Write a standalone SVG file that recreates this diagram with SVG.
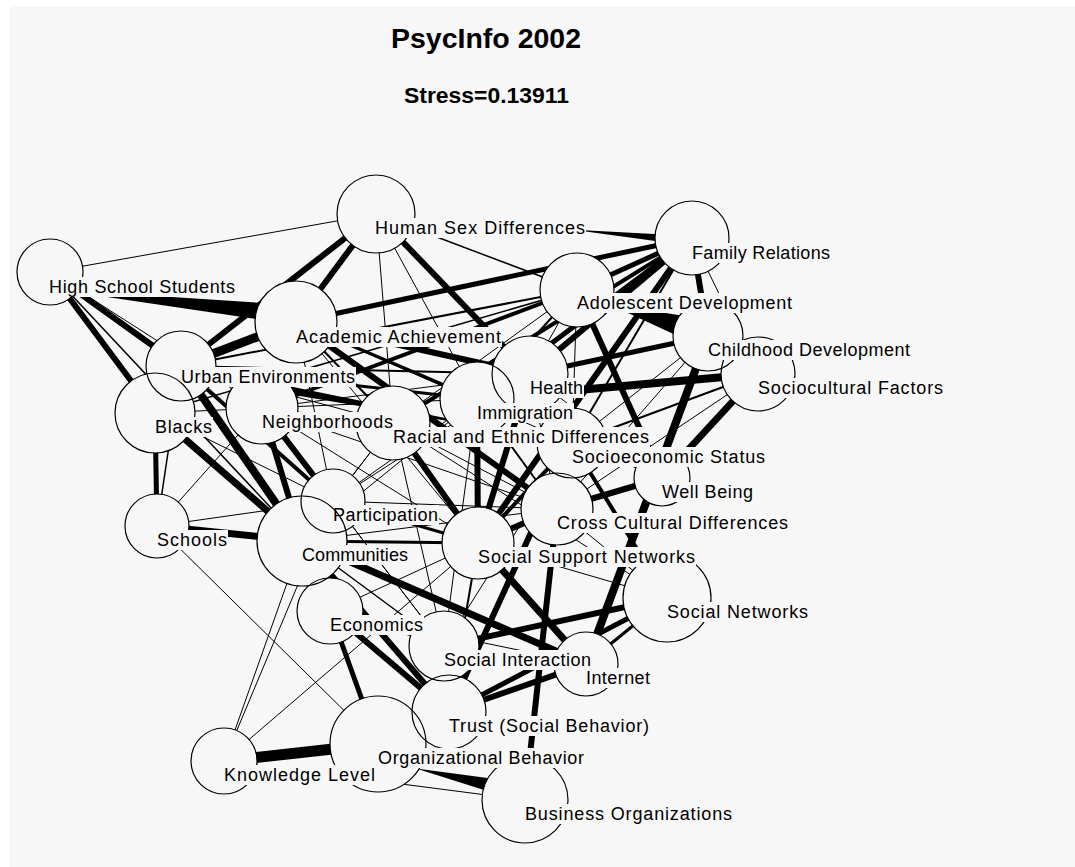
<svg xmlns="http://www.w3.org/2000/svg" width="1075" height="867" viewBox="0 0 1075 867">
<style>
.bg{fill:#f7f7f7}
.e line{stroke:#000;stroke-linecap:butt}
.e polygon{fill:#000}
.w1{stroke-width:1}.w15{stroke-width:1.5}.w2{stroke-width:2}.w3{stroke-width:3}.w4{stroke-width:4}.w5{stroke-width:5}.w6{stroke-width:6}.w7{stroke-width:7}.w8{stroke-width:8}.w9{stroke-width:9}.w11{stroke-width:11}
.node circle{fill:none;stroke:#000;stroke-width:1.2}
.node rect{fill:#f7f7f7}
.node text{font-family:"Liberation Sans",Arial,sans-serif;font-size:18px;fill:#000}
.title{font-family:"Liberation Sans",Arial,sans-serif;font-weight:bold;fill:#000}
</style>
<defs>
<mask id="holes" maskUnits="userSpaceOnUse" x="0" y="0" width="1075" height="867">
<rect x="0" y="0" width="1075" height="867" fill="#fff"/>
<g fill="#000">
<circle cx="376" cy="214" r="39"/><circle cx="50" cy="272" r="33"/><circle cx="692" cy="238" r="37"/><circle cx="577" cy="290" r="37"/>
<circle cx="296" cy="322" r="41"/><circle cx="181" cy="366" r="35"/><circle cx="155" cy="413" r="40"/><circle cx="262" cy="408" r="36"/>
<circle cx="708" cy="336" r="35"/><circle cx="758" cy="374" r="37"/><circle cx="530" cy="374" r="38"/><circle cx="477" cy="399" r="37"/>
<circle cx="393" cy="423" r="37"/><circle cx="572" cy="443" r="35"/><circle cx="662" cy="478" r="28"/><circle cx="557" cy="509" r="36"/>
<circle cx="478" cy="543" r="36"/><circle cx="667" cy="598" r="44"/><circle cx="333" cy="501" r="32"/><circle cx="302" cy="541" r="45"/>
<circle cx="157" cy="526" r="32"/><circle cx="330" cy="611" r="33"/><circle cx="444" cy="646" r="35"/><circle cx="586" cy="664" r="32"/>
<circle cx="449" cy="712" r="37"/><circle cx="378" cy="744" r="48"/><circle cx="224" cy="761" r="33"/><circle cx="525" cy="800" r="43"/>
</g>
</mask>
</defs>
<rect x="0" y="0" width="1075" height="867" fill="#fff"/>
<rect class="bg" x="10" y="6" width="1065" height="861"/>
<text class="title" x="391" y="48" font-size="27" textLength="190" lengthAdjust="spacingAndGlyphs">PsycInfo 2002</text>
<text class="title" x="404" y="103" font-size="22" textLength="165" lengthAdjust="spacingAndGlyphs">Stress=0.13911</text>
<g id="connectors" class="e" mask="url(#holes)">
<line class="w1" x1="50" y1="272" x2="376" y2="214"/>
<line class="w1" x1="50" y1="272" x2="262" y2="408"/>
<line class="w1" x1="376" y1="214" x2="393" y2="423"/>
<line class="w1" x1="376" y1="214" x2="477" y2="399"/>
<line class="w1" x1="157" y1="526" x2="262" y2="408"/>
<line class="w1" x1="157" y1="526" x2="333" y2="501"/>
<line class="w1" x1="157" y1="526" x2="378" y2="744"/>
<line class="w1" x1="224" y1="761" x2="478" y2="543"/>
<line class="w1" x1="224" y1="761" x2="525" y2="800"/>
<line class="w1" x1="330" y1="611" x2="444" y2="646"/>
<line class="w1" x1="155" y1="413" x2="333" y2="501"/>
<line class="w1" x1="262" y1="408" x2="478" y2="543"/>
<line class="w1" x1="262" y1="408" x2="444" y2="646"/>
<line class="w1" x1="262" y1="408" x2="557" y2="509"/>
<line class="w1" x1="333" y1="501" x2="444" y2="646"/>
<line class="w1" x1="333" y1="501" x2="477" y2="399"/>
<line class="w1" x1="333" y1="501" x2="393" y2="423"/>
<line class="w1" x1="333" y1="501" x2="530" y2="374"/>
<line class="w1" x1="333" y1="501" x2="557" y2="509"/>
<line class="w1" x1="393" y1="423" x2="444" y2="646"/>
<line class="w1" x1="393" y1="423" x2="302" y2="541"/>
<line class="w1" x1="393" y1="423" x2="557" y2="509"/>
<line class="w1" x1="477" y1="399" x2="302" y2="541"/>
<line class="w1" x1="477" y1="399" x2="444" y2="646"/>
<line class="w1" x1="530" y1="374" x2="662" y2="478"/>
<line class="w1" x1="478" y1="543" x2="667" y2="598"/>
<line class="w1" x1="557" y1="509" x2="667" y2="598"/>
<line class="w1" x1="444" y1="646" x2="586" y2="664"/>
<line class="w1" x1="449" y1="712" x2="378" y2="744"/>
<line class="w1" x1="692" y1="238" x2="758" y2="374"/>
<line class="w1" x1="577" y1="290" x2="530" y2="374"/>
<line class="w1" x1="577" y1="290" x2="572" y2="443"/>
<line class="w1" x1="577" y1="290" x2="393" y2="423"/>
<line class="w1" x1="758" y1="374" x2="557" y2="509"/>
<line class="w1" x1="662" y1="478" x2="572" y2="443"/>
<line class="w1" x1="302" y1="541" x2="557" y2="509"/>
<line class="w1" x1="181" y1="366" x2="393" y2="423"/>
<line class="w1" x1="708" y1="336" x2="557" y2="509"/>
<line class="w1" x1="530" y1="374" x2="557" y2="509"/>
<line class="w1" x1="572" y1="443" x2="444" y2="646"/>
<line class="w1" x1="393" y1="423" x2="667" y2="598"/>
<line class="w1" x1="262" y1="408" x2="530" y2="374"/>
<line class="w1" x1="302" y1="541" x2="224" y2="761"/>
<line class="w1" x1="333" y1="501" x2="224" y2="761"/>
<line class="w1" x1="262" y1="408" x2="393" y2="423"/>
<line class="w1" x1="155" y1="413" x2="262" y2="408"/>
<line class="w1" x1="330" y1="611" x2="478" y2="543"/>
<line class="w1" x1="330" y1="611" x2="586" y2="664"/>
<line class="w1" x1="708" y1="336" x2="572" y2="443"/>
<line class="w1" x1="296" y1="322" x2="572" y2="443"/>
<line class="w1" x1="296" y1="322" x2="478" y2="543"/>
<line class="w1" x1="296" y1="322" x2="333" y2="501"/>
<line class="w1" x1="262" y1="408" x2="477" y2="399"/>
<line class="w15" x1="50" y1="272" x2="302" y2="541"/>
<line class="w15" x1="376" y1="214" x2="577" y2="290"/>
<line class="w15" x1="302" y1="541" x2="444" y2="646"/>
<line class="w15" x1="181" y1="366" x2="157" y2="526"/>
<line class="w15" x1="155" y1="413" x2="577" y2="290"/>
<line class="w2" x1="181" y1="366" x2="530" y2="374"/>
<line class="w2" x1="477" y1="399" x2="557" y2="509"/>
<line class="w2" x1="577" y1="290" x2="477" y2="399"/>
<line class="w2" x1="478" y1="543" x2="449" y2="712"/>
<line class="w2" x1="296" y1="322" x2="393" y2="423"/>
<line class="w2" x1="692" y1="238" x2="572" y2="443"/>
<line class="w2" x1="181" y1="366" x2="577" y2="290"/>
<line class="w2" x1="572" y1="443" x2="758" y2="374"/>
<line class="w3" x1="296" y1="322" x2="477" y2="399"/>
<line class="w3" x1="302" y1="541" x2="478" y2="543"/>
<line class="w3" x1="667" y1="598" x2="586" y2="664"/>
<line class="w3" x1="181" y1="366" x2="155" y2="413"/>
<line class="w3" x1="181" y1="366" x2="477" y2="399"/>
<line class="w3" x1="333" y1="501" x2="478" y2="543"/>
<line class="w4" x1="181" y1="366" x2="333" y2="501"/>
<line class="w4" x1="572" y1="443" x2="478" y2="543"/>
<line class="w4" x1="692" y1="238" x2="393" y2="423"/>
<line class="w4" x1="262" y1="408" x2="577" y2="290"/>
<line class="w4" x1="572" y1="443" x2="667" y2="598"/>
<line class="w5" x1="155" y1="413" x2="157" y2="526"/>
<line class="w5" x1="530" y1="374" x2="708" y2="336"/>
<line class="w5" x1="330" y1="611" x2="378" y2="744"/>
<line class="w5" x1="692" y1="238" x2="577" y2="290"/>
<line class="w5" x1="692" y1="238" x2="477" y2="399"/>
<line class="w5" x1="667" y1="598" x2="449" y2="712"/>
<line class="w5" x1="692" y1="238" x2="296" y2="322"/>
<line class="w6" x1="50" y1="272" x2="181" y2="366"/>
<line class="w6" x1="50" y1="272" x2="155" y2="413"/>
<line class="w6" x1="376" y1="214" x2="296" y2="322"/>
<line class="w6" x1="376" y1="214" x2="181" y2="366"/>
<line class="w6" x1="376" y1="214" x2="530" y2="374"/>
<line class="w6" x1="296" y1="322" x2="530" y2="374"/>
<line class="w6" x1="296" y1="322" x2="557" y2="509"/>
<line class="w6" x1="262" y1="408" x2="302" y2="541"/>
<line class="w6" x1="262" y1="408" x2="333" y2="501"/>
<line class="w6" x1="330" y1="611" x2="449" y2="712"/>
<line class="w6" x1="302" y1="541" x2="449" y2="712"/>
<line class="w6" x1="477" y1="399" x2="478" y2="543"/>
<line class="w6" x1="530" y1="374" x2="478" y2="543"/>
<line class="w6" x1="393" y1="423" x2="478" y2="543"/>
<line class="w6" x1="572" y1="443" x2="449" y2="712"/>
<line class="w6" x1="478" y1="543" x2="557" y2="509"/>
<line class="w6" x1="557" y1="509" x2="525" y2="800"/>
<line class="w6" x1="667" y1="598" x2="444" y2="646"/>
<line class="w6" x1="449" y1="712" x2="586" y2="664"/>
<line class="w6" x1="692" y1="238" x2="530" y2="374"/>
<line class="w6" x1="692" y1="238" x2="708" y2="336"/>
<line class="w6" x1="577" y1="290" x2="662" y2="478"/>
<line class="w6" x1="692" y1="238" x2="478" y2="543"/>
<line class="w6" x1="557" y1="509" x2="662" y2="478"/>
<line class="w7" x1="155" y1="413" x2="302" y2="541"/>
<line class="w7" x1="302" y1="541" x2="586" y2="664"/>
<line class="w7" x1="478" y1="543" x2="586" y2="664"/>
<line class="w7" x1="157" y1="526" x2="302" y2="541"/>
<line class="w7" x1="758" y1="374" x2="662" y2="478"/>
<line class="w8" x1="181" y1="366" x2="302" y2="541"/>
<line class="w8" x1="477" y1="399" x2="758" y2="374"/>
<line class="w8" x1="708" y1="336" x2="586" y2="664"/>
<line class="w9" x1="181" y1="366" x2="296" y2="322"/>
<line class="w11" x1="224" y1="761" x2="378" y2="744"/>
<polygon points="80,291 80,293 262,320 262,303"/>
<polygon points="560,228 560,229 692,236 692,246"/>
<polygon points="181,364 181,376 572,442 572,444"/>
<polygon points="600,300 600,302 708,320 708,350"/>
<polygon points="405,765 405,767 525,783 525,803"/>
</g>
<g id="nodes">
<g id="n-sociocultural" class="node"><circle cx="758" cy="374" r="37"/><rect x="758" y="378" width="186" height="20"/><text x="758" y="394" textLength="185">Sociocultural Factors</text></g>
<g id="n-childhood" class="node"><circle cx="708" cy="336" r="35"/><rect x="708" y="340" width="203" height="20"/><text x="708" y="356" textLength="202">Childhood Development</text></g>
<g id="n-family" class="node"><circle cx="692" cy="238" r="37"/><rect x="692" y="243" width="139" height="20"/><text x="692" y="259" textLength="138">Family Relations</text></g>
<g id="n-socnet" class="node"><circle cx="667" cy="598" r="44"/><rect x="667" y="602" width="142" height="20"/><text x="667" y="618" textLength="141">Social Networks</text></g>
<g id="n-wellbeing" class="node"><circle cx="662" cy="478" r="28"/><rect x="662" y="482" width="92" height="20"/><text x="662" y="498" textLength="91">Well Being</text></g>
<g id="n-internet" class="node"><circle cx="586" cy="664" r="32"/><rect x="586" y="668" width="65" height="20"/><text x="586" y="684" textLength="64">Internet</text></g>
<g id="n-adolescent" class="node"><circle cx="577" cy="290" r="37"/><rect x="577" y="293" width="216" height="20"/><text x="577" y="309" textLength="215">Adolescent Development</text></g>
<g id="n-ses" class="node"><circle cx="572" cy="443" r="35"/><rect x="572" y="447" width="194" height="20"/><text x="572" y="463" textLength="193">Socioeconomic Status</text></g>
<g id="n-crosscult" class="node"><circle cx="557" cy="509" r="36"/><rect x="557" y="513" width="232" height="20"/><text x="557" y="529" textLength="231">Cross Cultural Differences</text></g>
<g id="n-health" class="node"><circle cx="530" cy="374" r="38"/><rect x="530" y="378" width="54" height="20"/><text x="530" y="394" textLength="53">Health</text></g>
<g id="n-business" class="node"><circle cx="525" cy="800" r="43"/><rect x="525" y="804" width="208" height="20"/><text x="525" y="820" textLength="207">Business Organizations</text></g>
<g id="n-socsupport" class="node"><circle cx="478" cy="543" r="36"/><rect x="478" y="547" width="218" height="20"/><text x="478" y="563" textLength="217">Social Support Networks</text></g>
<g id="n-immigration" class="node"><circle cx="477" cy="399" r="37"/><rect x="477" y="403" width="97" height="20"/><text x="477" y="419" textLength="96">Immigration</text></g>
<g id="n-trust" class="node"><circle cx="449" cy="712" r="37"/><rect x="449" y="716" width="201" height="20"/><text x="449" y="732" textLength="200">Trust (Social Behavior)</text></g>
<g id="n-socinteraction" class="node"><circle cx="444" cy="646" r="35"/><rect x="444" y="650" width="148" height="20"/><text x="444" y="666" textLength="147">Social Interaction</text></g>
<g id="n-racial" class="node"><circle cx="393" cy="423" r="37"/><rect x="393" y="427" width="257" height="20"/><text x="393" y="443" textLength="256">Racial and Ethnic Differences</text></g>
<g id="n-orgbehavior" class="node"><circle cx="378" cy="744" r="48"/><rect x="378" y="748" width="207" height="20"/><text x="378" y="764" textLength="206">Organizational Behavior</text></g>
<g id="n-sexdiff" class="node"><circle cx="376" cy="214" r="39"/><rect x="375" y="218" width="211" height="20"/><text x="375" y="234" textLength="210">Human Sex Differences</text></g>
<g id="n-participation" class="node"><circle cx="333" cy="501" r="32"/><rect x="333" y="505" width="106" height="20"/><text x="333" y="521" textLength="105">Participation</text></g>
<g id="n-economics" class="node"><circle cx="330" cy="611" r="33"/><rect x="330" y="615" width="94" height="20"/><text x="330" y="631" textLength="93">Economics</text></g>
<g id="n-communities" class="node"><circle cx="302" cy="541" r="45"/><rect x="302" y="545" width="107" height="20"/><text x="302" y="561" textLength="106">Communities</text></g>
<g id="n-academic" class="node"><circle cx="296" cy="322" r="41"/><rect x="296" y="327" width="206" height="20"/><text x="296" y="343" textLength="205">Academic Achievement</text></g>
<g id="n-neighborhoods" class="node"><circle cx="262" cy="408" r="36"/><rect x="262" y="412" width="132" height="20"/><text x="262" y="428" textLength="131">Neighborhoods</text></g>
<g id="n-knowledge" class="node"><circle cx="224" cy="761" r="33"/><rect x="224" y="765" width="152" height="20"/><text x="224" y="781" textLength="151">Knowledge Level</text></g>
<g id="n-urban" class="node"><circle cx="181" cy="366" r="35"/><rect x="181" y="367" width="175" height="20"/><text x="181" y="383" textLength="174">Urban Environments</text></g>
<g id="n-schools" class="node"><circle cx="157" cy="526" r="32"/><rect x="157" y="530" width="71" height="20"/><text x="157" y="546" textLength="70">Schools</text></g>
<g id="n-blacks" class="node"><circle cx="155" cy="413" r="40"/><rect x="155" y="417" width="58" height="20"/><text x="155" y="433" textLength="57">Blacks</text></g>
<g id="n-highschool" class="node"><circle cx="50" cy="272" r="33"/><rect x="49" y="277" width="187" height="20"/><text x="49" y="293" textLength="186">High School Students</text></g>
</g>
</svg>
